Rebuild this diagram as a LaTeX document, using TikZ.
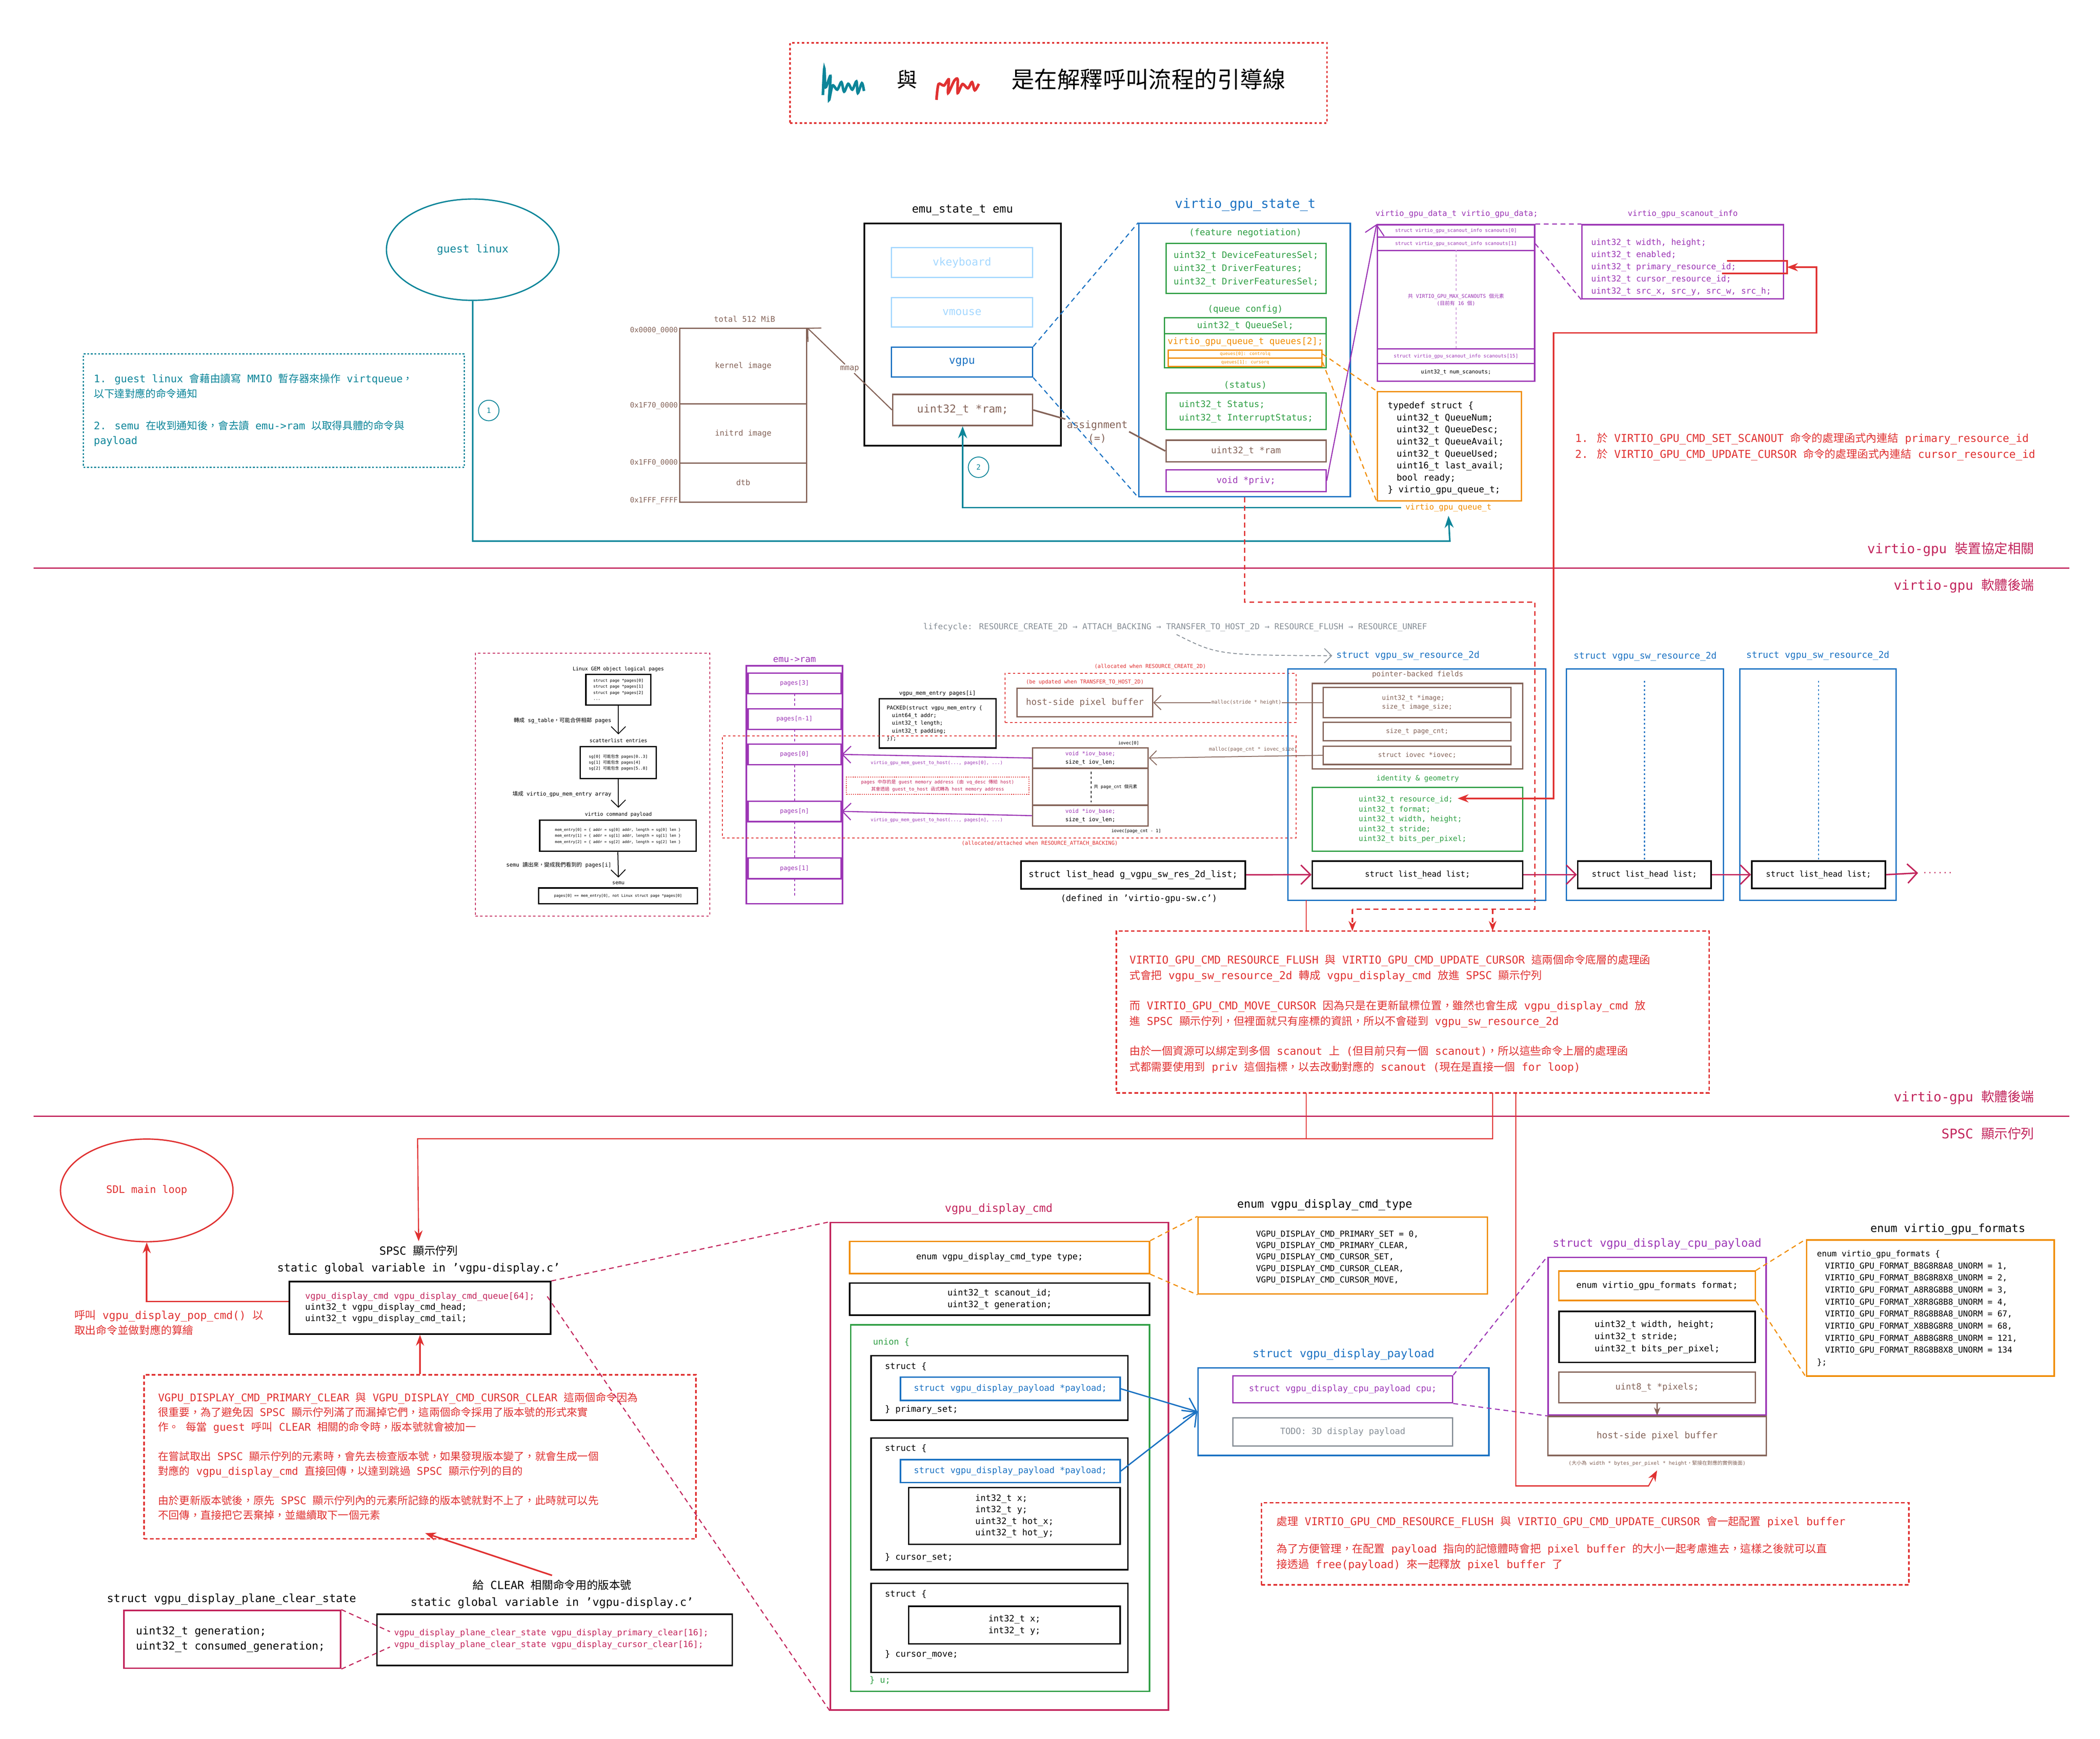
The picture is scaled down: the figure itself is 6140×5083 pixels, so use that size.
\documentclass[tikz,border=0pt]{standalone}
\usepackage{fontspec}
\setmainfont{DejaVu Sans Mono}
\newfontfamily\cjk{Noto Sans CJK TC}
\usetikzlibrary{arrows.meta,positioning,shapes.geometric}
% automatic switch to the CJK font for Han characters and CJK punctuation
\XeTeXinterchartokenstate=1
\newXeTeXintercharclass\cjkclass
\count255="4E00
\loop\XeTeXcharclass\count255=\cjkclass\advance\count255 1 \ifnum\count255<"A000 \repeat
\count255="3000
\loop\XeTeXcharclass\count255=\cjkclass\advance\count255 1 \ifnum\count255<"3040 \repeat
\count255="FF00
\loop\XeTeXcharclass\count255=\cjkclass\advance\count255 1 \ifnum\count255<"FF60 \repeat
\XeTeXinterchartoks 0 \cjkclass={\cjk}
\XeTeXinterchartoks 4095 \cjkclass={\cjk}
\XeTeXinterchartoks \cjkclass 0={\rmfamily}
\XeTeXinterchartoks \cjkclass 4095={\rmfamily}
\definecolor{tealc}{HTML}{0C8599}
\definecolor{bluec}{HTML}{1971C2}
\definecolor{greenc}{HTML}{2F9E44}
\definecolor{orangec}{HTML}{F08C00}
\definecolor{purplec}{HTML}{9C36B5}
\definecolor{brownc}{HTML}{846358}
\definecolor{redc}{HTML}{E03131}
\definecolor{crimc}{HTML}{C2255C}
\definecolor{lblue}{HTML}{A5D8FF}
\definecolor{greyc}{HTML}{868E96}
\newcommand\fs[2]{\fontsize{#1}{#2}\selectfont}
% box from corner to corner, in pixel units
\def\regbox#1#2(#3,#4)(#5,#6)#7{%
  \pgfmathsetmacro\bxc{(#3+#5)/2}\pgfmathsetmacro\byc{(#4+#6)/2}%
  \pgfmathsetmacro\bw{(#5-#3)*0.01}\pgfmathsetmacro\bh{(#6-#4)*0.01}%
  \node[draw,#1,minimum width=\bw cm,minimum height=\bh cm,inner sep=0pt] (#2) at (\bxc,\byc) {#7};}
\begin{document}
\begin{tikzpicture}[x=0.01cm,y=-0.01cm]
  \tikzstyle{every node}=[align=center, text=black]
  \tikzstyle{fld}=[line width=1.1pt]
  \tikzstyle{thin}=[line width=0.7pt]
  \tikzstyle{lnk}=[line width=0.9pt]
  \tikzstyle{dsh}=[line width=0.9pt, dash pattern=on 4pt off 3pt]
  \useasboundingbox (0,0) rectangle (6140,5083);

  % legend
  \regbox{draw=redc, line width=1.2pt, dash pattern=on 2pt off 2pt}{legend}(2310,125)(3880,360){}
  \draw[tealc, line width=2.2pt] plot[smooth] coordinates {(2406,278)(2410,200)(2414,255)(2428,222)(2424,292)(2434,250)(2448,262)(2460,240)(2468,268)(2480,245)(2492,262)(2504,238)(2508,272)(2520,243)(2526,266)};
  \node[font=\fs{17}{20}] (yu) at (2652,232) {與};
  \draw[redc, line width=2.2pt] plot[smooth] coordinates {(2738,292)(2744,246)(2760,250)(2774,232)(2772,272)(2790,236)(2800,232)(2800,272)(2814,246)(2830,258)(2842,240)(2850,264)(2862,245)};
  \node[font=\fs{19}{22}, anchor=west] (legtxt) at (2945,232) {是在解釋呼叫流程的引導線};

  % guest side
  \node[draw=tealc, line width=1.1pt, ellipse, minimum width=5.04cm, minimum height=2.96cm, text=tealc, font=\fs{9}{11}] (guest) at (1382,730) {guest linux};
  \regbox{draw=tealc, line width=1pt, dash pattern=on 1.5pt off 1.5pt}{note}(244,1035)(1358,1366){}
  \node[anchor=north west, align=left, text=tealc, font=\fs{8.6}{12.5}] (notetxt) at (262,1080) {1. guest linux 會藉由讀寫 MMIO 暫存器來操作 virtqueue，\\以下達對應的命令通知\\[14pt]2. semu 在收到通知後，會去讀 emu->ram 以取得具體的命令與\\payload};
  \node[draw=tealc, circle, thin, minimum size=0.6cm, inner sep=0pt, text=tealc, font=\fs{6}{7}] (one) at (1429,1200) {1};
  \node[draw=tealc, circle, thin, minimum size=0.6cm, inner sep=0pt, text=tealc, font=\fs{6}{7}] (two) at (2861,1366) {2};

  % memory map
  \node[text=brownc, font=\fs{6.5}{8}] (total) at (2177,933) {total 512 MiB};
  \regbox{draw=brownc, fld, text=brownc, font=\fs{6.5}{8}}{kernel}(1988,960)(2358,1181){kernel image}
  \regbox{draw=brownc, fld, text=brownc, font=\fs{6.5}{8}}{initrd}(1988,1181)(2358,1354){initrd image}
  \regbox{draw=brownc, fld, text=brownc, font=\fs{6.5}{8}}{dtb}(1988,1354)(2358,1468){dtb}
  \foreach \ad/\yy in {0x0000\_0000/966, 0x1F70\_0000/1186, 0x1FF0\_0000/1354, 0x1FFF\_FFFF/1464}
    \node[anchor=east, text=brownc, font=\fs{6}{7}, inner sep=1pt] at (1986,\yy) {\ad};

  % emu_state_t
  \node[font=\fs{9.3}{11}] (emulbl) at (2814,614) {emu\_state\_t emu};
  \regbox{draw=black, line width=1.3pt}{emu}(2527,653)(3102,1303){}
  \regbox{draw=lblue, fld, text=lblue, font=\fs{9}{11}}{vkbd}(2606,724)(3019,811){vkeyboard}
  \regbox{draw=lblue, fld, text=lblue, font=\fs{9}{11}}{vmouse}(2606,870)(3019,956){vmouse}
  \regbox{draw=bluec, fld, text=bluec, font=\fs{9}{11}}{vgpu}(2606,1015)(3019,1102){vgpu}
  \regbox{draw=brownc, fld, text=brownc, font=\fs{9}{11}}{ram}(2610,1153)(3019,1244){uint32\_t *ram;}
  \node[text=brownc, font=\fs{6.5}{8}, fill=white, inner sep=1pt] (mmap) at (2484,1078) {mmap};
  \draw[brownc, lnk] (ram.west) -- (mmap);
  \draw[brownc, lnk, -{Straight Barb[length=8pt]}] (mmap) -- (kernel.north east);

  % virtio_gpu_state_t
  \node[text=bluec, font=\fs{10.8}{13}] (statelbl) at (3641,598) {virtio\_gpu\_state\_t};
  \regbox{draw=bluec, line width=1.2pt}{state}(3330,653)(3948,1452){}
  \node[text=greenc, font=\fs{7.4}{9}] (featlbl) at (3641,681) {(feature negotiation)};
  \regbox{draw=greenc, fld, text=greenc, font=\fs{7.4}{11}}{feat}(3409,712)(3877,858){\begin{tabular}{@{}l@{}}uint32\_t DeviceFeaturesSel;\\uint32\_t DriverFeatures;\\uint32\_t DriverFeaturesSel;\end{tabular}}
  \node[text=greenc, font=\fs{7.4}{9}] (qcfglbl) at (3641,905) {(queue config)};
  \regbox{draw=greenc, fld, text=greenc, font=\fs{7.4}{9}}{qsel}(3405,929)(3877,976){uint32\_t QueueSel;}
  \regbox{draw=greenc, fld}{qarr}(3405,976)(3877,1075){}
  \node[text=orangec, font=\fs{7.4}{9}] (qarrtxt) at (3641,1000) {virtio\_gpu\_queue\_t queues[2];};
  \regbox{draw=orangec, fld, text=orangec, font=\fs{3.6}{4}}{q0}(3416,1023)(3865,1047){queues[0]: controlq}
  \regbox{draw=orangec, fld, text=orangec, font=\fs{3.6}{4}}{q1}(3416,1047)(3865,1071){queues[1]: cursorq}
  \node[text=greenc, font=\fs{7.4}{9}] (statlbl) at (3641,1126) {(status)};
  \regbox{draw=greenc, fld, text=greenc, font=\fs{7.4}{11}}{stat}(3409,1149)(3877,1256){\begin{tabular}{@{}l@{}}uint32\_t Status;\\uint32\_t InterruptStatus;\end{tabular}}
  \regbox{draw=brownc, fld, text=brownc, font=\fs{7.4}{9}}{sram}(3409,1287)(3877,1350){uint32\_t *ram}
  \regbox{draw=purplec, fld, text=purplec, font=\fs{7.4}{9}}{priv}(3409,1374)(3877,1437){void *priv;}
  \node[text=brownc, font=\fs{8.4}{11}, fill=white, inner sep=1pt] (asg) at (3208,1262) {assignment\\(=)};
  \draw[bluec, dsh] (vgpu.north east) -- (state.north west);
  \draw[bluec, dsh] (vgpu.south east) -- (state.south west);
  \draw[brownc, line width=1.3pt] (ram.east) -- (asg.north west);
  \draw[brownc, line width=1.3pt] (asg.east) -- (sram.west);

  % virtio_gpu_data
  \node[text=purplec, font=\fs{6.6}{8}] (datalbl) at (4259,626) {virtio\_gpu\_data\_t virtio\_gpu\_data;};
  \regbox{draw=purplec, fld, text=purplec, font=\fs{4}{5}}{sc0}(4027,657)(4487,693){struct virtio\_gpu\_scanout\_info scanouts[0]}
  \regbox{draw=purplec, fld, text=purplec, font=\fs{4}{5}}{sc1}(4027,693)(4487,732){struct virtio\_gpu\_scanout\_info scanouts[1]}
  \regbox{draw=purplec, fld}{scmid}(4027,732)(4487,1020){}
  \draw[purplec!50, thin, dash pattern=on 2pt off 2pt] (scmid.north) -- (scmid.south);
  \node[text=purplec, fill=white, inner sep=1pt, font=\fs{4.2}{6}] (scmidtxt) at (scmid) {共 VIRTIO\_GPU\_MAX\_SCANOUTS 個元素\\(目前有 16 個)};
  \regbox{draw=purplec, fld, text=purplec, font=\fs{4}{5}}{sc15}(4027,1020)(4487,1063){struct virtio\_gpu\_scanout\_info scanouts[15]}
  \regbox{draw=purplec, fld, font=\fs{4.4}{5}}{nsc}(4027,1063)(4487,1114){uint32\_t num\_scanouts;}
  \draw[purplec, lnk, -{Straight Barb[length=8pt]}] (priv.east) -- (sc0.north west);

  % virtio_gpu_scanout_info
  \node[text=purplec, font=\fs{6.6}{8}] (scilbl) at (4920,626) {virtio\_gpu\_scanout\_info};
  \regbox{draw=purplec, fld}{sci}(4625,657)(5215,874){}
  \node[anchor=west, align=left, text=purplec, font=\fs{6.9}{10.1}] (scitxt) at (4640,781) {uint32\_t width, height;\\uint32\_t enabled;\\uint32\_t primary\_resource\_id;\\uint32\_t cursor\_resource\_id;\\uint32\_t src\_x, src\_y, src\_w, src\_h;};
  \draw[purplec, dsh] (sc0.north east) -- (sci.north west);
  \draw[purplec, dsh] (sc1.east) -- (sci.south west);
  \coordinate (prim) at (5050,763);
  \coordinate (curs) at (5035,799);
  \draw[redc, line width=1.3pt] (prim) -- (5225,763) -- (5225,799) -- (curs);
  \node[anchor=west, align=left, text=redc, font=\fs{9}{13.5}] (bind) at (4593,1306) {1. 於 VIRTIO\_GPU\_CMD\_SET\_SCANOUT 命令的處理函式內連結 primary\_resource\_id\\2. 於 VIRTIO\_GPU\_CMD\_UPDATE\_CURSOR 命令的處理函式內連結 cursor\_resource\_id};

  % virtio_gpu_queue_t
  \regbox{draw=orangec, fld}{qtype}(4027,1145)(4448,1464){}
  \node[anchor=north west, align=left, font=\fs{7.4}{10}] (qtypetxt) at (4045,1162) {typedef struct \{\\\quad uint32\_t QueueNum;\\\quad uint32\_t QueueDesc;\\\quad uint32\_t QueueAvail;\\\quad uint32\_t QueueUsed;\\\quad uint16\_t last\_avail;\\\quad bool ready;\\\} virtio\_gpu\_queue\_t;};
  \node[text=orangec, font=\fs{6.6}{8}] (qlbl) at (4235,1484) {virtio\_gpu\_queue\_t};
  \draw[orangec, dsh] (q0.east) -- (qtype.north west);
  \draw[orangec, dsh] (q1.east) -- (qtype.south west);

  % guide lines (teal)
  \draw[tealc, line width=1.3pt, -{Stealth[length=10pt]}] (guest.south) |- (4239,1582) -- (qlbl.south);
  \draw[tealc, line width=1.3pt, -{Stealth[length=10pt]}] (qlbl.west) -| (ram.south);

  % section separators
  \draw[crimc, line width=1pt] (98,1661) -- (6050,1661);
  \node[anchor=east, text=crimc, font=\fs{11}{13}] (sec1) at (5960,1606) {virtio-gpu 裝置協定相關};
  \node[anchor=east, text=crimc, font=\fs{11}{13}] (sec2) at (5960,1712) {virtio-gpu 軟體後端};
  \draw[crimc, line width=1pt] (98,3263) -- (6050,3263);
  \node[anchor=east, text=crimc, font=\fs{11}{13}] (sec3) at (5960,3208) {virtio-gpu 軟體後端};
  \node[anchor=east, text=crimc, font=\fs{11}{13}] (sec4) at (5960,3314) {SPSC 顯示佇列};

  % red dashed guide from state to the flush note
  \draw[redc, dsh, line width=1.2pt] (state.south) |- (4488,1760) |- (3954,2658);
  \draw[redc, dsh, line width=1.2pt, -{Stealth}] (3954,2658) -- (3954,2722);
  \draw[redc, dsh, line width=1.2pt, -{Stealth}] (4364,2658) -- (4364,2722);

  % lifecycle
  \node[text=greyc, font=\fs{6.8}{8}] (life) at (3436,1834) {lifecycle: RESOURCE\_CREATE\_2D → ATTACH\_BACKING → TRANSFER\_TO\_HOST\_2D → RESOURCE\_FLUSH → RESOURCE\_UNREF};

  % left dashed box: from Linux pages to semu pages
  \regbox{draw=crimc, thin, dash pattern=on 2pt off 2pt}{gem}(1390,1909)(2075,2678){}
  \node[font=\fs{4.2}{5}] (gemlbl) at (1808,1956) {Linux GEM object logical pages};
  \regbox{fld, font=\fs{3.3}{5}}{gembox}(1713,1972)(1903,2061){\begin{tabular}{@{}l@{}}struct page *pages[0]\\struct page *pages[1]\\struct page *pages[2]\\...\end{tabular}}
  \node[font=\fs{4.2}{5}] (sglbl) at (1808,2165) {scatterlist entries};
  \regbox{fld, font=\fs{3.3}{5}}{sgbox}(1696,2183)(1919,2276){\begin{tabular}{@{}l@{}}sg[0] 可能包含 pages[0..3]\\sg[1] 可能包含 pages[4]\\sg[2] 可能包含 pages[5..8]\end{tabular}}
  \node[font=\fs{4.2}{5}] (vcplbl) at (1808,2381) {virtio command payload};
  \regbox{fld, font=\fs{3.1}{5}}{vcpbox}(1578,2398)(2035,2489){\begin{tabular}{@{}l@{}}mem\_entry[0] = \{ addr = sg[0] addr, length = sg[0] len \}\\mem\_entry[1] = \{ addr = sg[1] addr, length = sg[1] len \}\\mem\_entry[2] = \{ addr = sg[2] addr, length = sg[2] len \}\end{tabular}}
  \node[font=\fs{4.2}{5}] (semulbl) at (1808,2582) {semu};
  \regbox{fld, font=\fs{3.1}{5}}{semubox}(1575,2596)(2039,2642){pages[0] == mem\_entry[0], not Linux struct page *pages[0]}
  \draw[thin, -{Straight Barb[length=6pt]}] (gembox.south) -- (sglbl.north);
  \draw[thin, -{Straight Barb[length=6pt]}] (sgbox.south) -- (vcplbl.north);
  \draw[thin, -{Straight Barb[length=6pt]}] (vcpbox.south) -- (semulbl.north);
  \node[anchor=east, font=\fs{4.5}{5}] at (1800,2107) {轉成 sg\_table，可能合併相鄰 pages};
  \node[anchor=east, font=\fs{4.5}{5}] at (1800,2322) {填成 virtio\_gpu\_mem\_entry array};
  \node[anchor=east, font=\fs{4.5}{5}] at (1800,2529) {semu 讀出來，變成我們看到的 pages[i]};

  % emu->ram pages
  \node[text=purplec, font=\fs{7.4}{9}] (ramlbl) at (2323,1929) {emu->ram};
  \regbox{draw=purplec, line width=1.3pt}{pgcol}(2182,1946)(2463,2642){}
  \foreach \nm/\lb/\ya/\yb in {pg3/pages[3]/1968/2028, pgm/pages[n-1]/2072/2132, pg0/pages[0]/2175/2236, pgn/pages[n]/2342/2402, pg1/pages[1]/2508/2569}
    \regbox{draw=purplec, fld, text=purplec, font=\fs{5}{6}}{\nm}(2187,\ya)(2459,\yb){\lb}
  \foreach \ya/\yb in {2028/2072, 2132/2175, 2236/2342, 2402/2508, 2569/2625}
    \draw[purplec, thin, dash pattern=on 2pt off 2pt] (2323,\ya) -- (2323,\yb);

  \node[font=\fs{4.6}{6}] (melbl) at (2741,2028) {vgpu\_mem\_entry pages[i]};
  \regbox{fld}{mebox}(2571,2043)(2912,2187){}
  \node[anchor=north west, align=left, font=\fs{4.4}{6.4}] (metxt) at (2580,2050) {PACKED(struct vgpu\_mem\_entry \{\\\quad uint64\_t addr;\\\quad uint32\_t length;\\\quad uint32\_t padding;\\\});};

  % host-side buffer and iovec
  \regbox{draw=redc, thin, dash pattern=on 2pt off 2pt}{creat}(2939,1968)(3789,2112){}
  \node[text=redc, font=\fs{4.4}{5}] (creatlbl) at (3363,1949) {(allocated when RESOURCE\_CREATE\_2D)};
  \node[text=redc, font=\fs{4.4}{5}] (trlbl) at (3172,1995) {(be updated when TRANSFER\_TO\_HOST\_2D)};
  \regbox{draw=brownc, fld, text=brownc, font=\fs{7.4}{9}}{hbuf}(2974,2012)(3370,2096){host-side pixel buffer}
  \regbox{draw=redc, thin, dash pattern=on 2pt off 2pt}{attach}(2112,2151)(3789,2450){}
  \node[text=redc, font=\fs{4.4}{5}, fill=white, inner sep=1pt] (attlbl) at (3040,2466) {(allocated/attached when RESOURCE\_ATTACH\_BACKING)};
  \regbox{draw=brownc, fld, text=purplec, font=\fs{4.6}{7}}{iov0}(3019,2186)(3357,2246){\begin{tabular}{@{}l@{}}void *iov\_base;\\\textcolor{black}{size\_t iov\_len;}\end{tabular}}
  \regbox{draw=brownc, fld}{iovm}(3019,2246)(3357,2354){}
  \regbox{draw=brownc, fld, text=purplec, font=\fs{4.6}{7}}{iovn}(3019,2354)(3357,2415){\begin{tabular}{@{}l@{}}void *iov\_base;\\\textcolor{black}{size\_t iov\_len;}\end{tabular}}
  \draw[black, thin, dash pattern=on 2pt off 2pt] (3190,2256) -- (3190,2345);
  \node[anchor=west, font=\fs{3.6}{4}, inner sep=1pt] at (3194,2300) {共 page\_cnt 個元素};
  \node[font=\fs{3.6}{4}] at (3300,2172) {iovec[0]};
  \node[font=\fs{3.6}{4}] at (3322,2430) {iovec[page\_cnt - 1]};
  \draw[purplec, lnk, -{Straight Barb[length=7pt]}] (iov0.west) -- (pg0.east) node[midway, below, font=\fs{3.8}{4}, text=purplec] {virtio\_gpu\_mem\_guest\_to\_host(..., pages[0], ...)};
  \draw[purplec, lnk, -{Straight Barb[length=7pt]}] (iovn.west) -- (pgn.east) node[midway, below, font=\fs{3.8}{4}, text=purplec] {virtio\_gpu\_mem\_guest\_to\_host(..., pages[n], ...)};
  \regbox{draw=redc, thin, dash pattern=on 0.8pt off 1pt}{pnote}(2475,2272)(3008,2322){}
  \node[text=crimc, font=\fs{3.8}{6}] (pnotetxt) at (pnote) {pages 中存的是 guest memory address (由 vq\_desc 傳給 host)\\其會透過 guest\_to\_host 函式轉為 host memory address};

  \regbox{line width=1.3pt, font=\fs{7.4}{9}}{glist}(2985,2517)(3641,2598){struct list\_head g\_vgpu\_sw\_res\_2d\_list;}
  \node[font=\fs{7.2}{9}] (gdef) at (3330,2628) {(defined in 'virtio-gpu-sw.c')};

  % vgpu_sw_resource_2d list
  \node[anchor=west, text=bluec, font=\fs{7.6}{9}] (res1lbl) at (3895,1917) {struct vgpu\_sw\_resource\_2d};
  \draw[greyc, thin, dash pattern=on 3pt off 2pt, -{Straight Barb[length=6pt]}] (3440,1855) .. controls (3560,1915) .. (res1lbl.west);
  \regbox{draw=bluec, fld}{res1}(3766,1956)(4520,2632){}
  \node[text=brownc, font=\fs{6}{7}] (pbl) at (4145,1972) {pointer-backed fields};
  \regbox{draw=brownc, fld}{pbox}(3837,1998)(4452,2248){}
  \regbox{draw=brownc, fld, text=brownc, font=\fs{5.4}{7.6}}{imgf}(3869,2010)(4418,2098){\begin{tabular}{@{}l@{}}uint32\_t *image;\\size\_t image\_size;\end{tabular}}
  \regbox{draw=brownc, fld, text=brownc, font=\fs{5.4}{6}}{pcf}(3869,2112)(4418,2166){size\_t page\_cnt;}
  \regbox{draw=brownc, fld, text=brownc, font=\fs{5.4}{6}}{iovf}(3869,2181)(4418,2235){struct iovec *iovec;}
  \node[text=greenc, font=\fs{6}{7}] (idl) at (4145,2277) {identity \& geometry};
  \regbox{draw=greenc, fld}{idbox}(3837,2302)(4452,2488){}
  \node[anchor=north west, align=left, text=greenc, font=\fs{6.2}{8.2}] (idtxt) at (3960,2315) {uint32\_t resource\_id;\\uint32\_t format;\\uint32\_t width, height;\\uint32\_t stride;\\uint32\_t bits\_per\_pixel;};
  \coordinate (rid) at (4262,2334);
  \regbox{line width=1.3pt, font=\fs{6.6}{8}}{list1}(3837,2517)(4452,2597){struct list\_head list;}
  \draw[brownc, thin, -{Straight Barb[length=6pt]}] (imgf.west) -- (hbuf.east) node[pos=0.45, fill=white, inner sep=0.5pt, font=\fs{4.2}{5}, text=brownc] {malloc(stride * height)};
  \draw[brownc, thin, -{Straight Barb[length=6pt]}] (iovf.west) -- (iov0.east) node[pos=0.4, above, font=\fs{4.2}{5}, text=brownc] {malloc(page\_cnt * iovec\_size)};

  \node[text=bluec, font=\fs{7.6}{9}] (res2lbl) at (4810,1919) {struct vgpu\_sw\_resource\_2d};
  \regbox{draw=bluec, fld}{res2}(4580,1956)(5039,2632){}
  \regbox{line width=1.3pt, font=\fs{6.6}{8}}{list2}(4613,2517)(5003,2597){struct list\_head list;}
  \node[text=bluec, font=\fs{7.6}{9}] (res3lbl) at (5315,1917) {struct vgpu\_sw\_resource\_2d};
  \regbox{draw=bluec, fld}{res3}(5087,1956)(5544,2632){}
  \regbox{line width=1.3pt, font=\fs{6.6}{8}}{list3}(5122,2517)(5512,2597){struct list\_head list;}
  \draw[bluec, lnk, dash pattern=on 1.5pt off 2pt] (4808,1990) -- (list2.north);
  \draw[bluec, lnk, dash pattern=on 1.5pt off 2pt] (5317,1990) -- (list3.north);
  \node[text=crimc, font=\fs{7}{8}] (more) at (5665,2552) {......};
  \draw[crimc, line width=1.2pt, -{Straight Barb[length=8pt]}] (glist.east) -- (list1.west);
  \draw[crimc, line width=1.2pt, -{Straight Barb[length=8pt]}] (list1.east) -- (list2.west);
  \draw[crimc, line width=1.2pt, -{Straight Barb[length=8pt]}] (list2.east) -- (list3.west);
  \draw[crimc, line width=1.2pt, -{Straight Barb[length=8pt]}] (list3.east) -- (more.west);

  % red guide to the resource id
  \draw[redc, line width=1.3pt, {Stealth[length=9pt]}-{Stealth[length=9pt]}] (rid) -- (4542,2334) -- (4542,973) -- (5311,973) -- (5311,781) -- (5225,781);

  % flush note
  \regbox{draw=redc, line width=1.2pt, dash pattern=on 3pt off 2pt}{flush}(3264,2722)(4997,3195){}
  \node[anchor=north west, align=left, text=redc, font=\fs{9}{13}] (flushtxt) at (3290,2778) {VIRTIO\_GPU\_CMD\_RESOURCE\_FLUSH 與 VIRTIO\_GPU\_CMD\_UPDATE\_CURSOR 這兩個命令底層的處理函\\式會把 vgpu\_sw\_resource\_2d 轉成 vgpu\_display\_cmd 放進 SPSC 顯示佇列\\[12pt]而 VIRTIO\_GPU\_CMD\_MOVE\_CURSOR 因為只是在更新鼠標位置，雖然也會生成 vgpu\_display\_cmd 放\\進 SPSC 顯示佇列，但裡面就只有座標的資訊，所以不會碰到 vgpu\_sw\_resource\_2d\\[12pt]由於一個資源可以綁定到多個 scanout 上 (但目前只有一個 scanout)，所以這些命令上層的處理函\\式都需要使用到 priv 這個指標，以去改動對應的 scanout (現在是直接一個 for loop)};
  \draw[redc, lnk] (3819,2632) -- (3819,2722);
  \draw[redc, lnk] (3819,3195) -- (3819,3329);

  % SPSC queue
  \node[draw=redc, line width=1.1pt, ellipse, minimum width=5.04cm, minimum height=3cm, text=redc, font=\fs{8.6}{10}] (sdl) at (429,3480) {SDL main loop};
  \node[font=\fs{9.3}{14}] (spsclbl) at (1224,3683) {SPSC 顯示佇列\\static global variable in 'vgpu-display.c'};
  \draw[redc, lnk, -{Stealth[length=9pt]}] (4364,3195) |- (1221,3329) -- (spsclbl.north);
  \regbox{line width=1.3pt}{queue}(846,3747)(1610,3900){}
  \node[anchor=west, align=left, font=\fs{7.2}{9.3}] (queuetxt) at (880,3823) {\textcolor{crimc}{vgpu\_display\_cmd vgpu\_display\_cmd\_queue[64];}\\uint32\_t vgpu\_display\_cmd\_head;\\uint32\_t vgpu\_display\_cmd\_tail;};
  \draw[redc, line width=1.3pt, -{Stealth[length=9pt]}] (queue.west |- 0,3805) -| (sdl.south);
  \node[anchor=north west, align=left, text=redc, font=\fs{9}{12.5}] (poptxt) at (205,3818) {呼叫 vgpu\_display\_pop\_cmd() 以\\取出命令並做對應的算繪};

  \regbox{draw=redc, line width=1.2pt, dash pattern=on 3pt off 2pt}{clearnote}(421,4019)(2035,4499){}
  \node[anchor=north west, align=left, text=redc, font=\fs{8.8}{12.3}] (clearnotetxt) at (450,4058) {VGPU\_DISPLAY\_CMD\_PRIMARY\_CLEAR 與 VGPU\_DISPLAY\_CMD\_CURSOR\_CLEAR 這兩個命令因為\\很重要，為了避免因 SPSC 顯示佇列滿了而漏掉它們，這兩個命令採用了版本號的形式來實\\作。 每當 guest 呼叫 CLEAR 相關的命令時，版本號就會被加一\\[12pt]在嘗試取出 SPSC 顯示佇列的元素時，會先去檢查版本號，如果發現版本變了，就會生成一個\\對應的 vgpu\_display\_cmd 直接回傳，以達到跳過 SPSC 顯示佇列的目的\\[12pt]由於更新版本號後，原先 SPSC 顯示佇列內的元素所記錄的版本號就對不上了，此時就可以先\\不回傳，直接把它丟棄掉，並繼續取下一個元素};
  \draw[redc, line width=1.3pt, -{Stealth[length=9pt]}] (clearnote.north -| queue.south) -- (queue.south);

  \node[font=\fs{9.3}{14}] (verlbl) at (1614,4660) {給 CLEAR 相關命令用的版本號\\static global variable in 'vgpu-display.c'};
  \draw[redc, line width=1.3pt, -{Stealth[length=9pt]}] (verlbl.north) -- (1243,4482);
  \regbox{line width=1.3pt}{clear}(1102,4719)(2141,4869){}
  \node[anchor=west, align=left, text=crimc, font=\fs{7}{10}] (cleartxt) at (1140,4792) {vgpu\_display\_plane\_clear\_state vgpu\_display\_primary\_clear[16];\\vgpu\_display\_plane\_clear\_state vgpu\_display\_cursor\_clear[16];};
  \node[font=\fs{9.3}{11}] (pcslbl) at (677,4676) {struct vgpu\_display\_plane\_clear\_state};
  \regbox{draw=crimc, line width=1.3pt}{pcs}(362,4708)(996,4877){}
  \node[anchor=west, align=left, font=\fs{9}{12.5}] (pcstxt) at (385,4792) {uint32\_t generation;\\uint32\_t consumed\_generation;};
  \draw[crimc, dsh] (pcs.north east) -- (cleartxt.west |- 0,4770);
  \draw[crimc, dsh] (pcs.south east) -- (cleartxt.west |- 0,4815);

  % vgpu_display_cmd
  \node[text=crimc, font=\fs{9.3}{11}] (cmdlbl) at (2920,3535) {vgpu\_display\_cmd};
  \regbox{draw=crimc, line width=1.2pt}{cmd}(2428,3574)(3416,4999){}
  \draw[crimc, dsh] (queue.north east) -- (cmd.north west);
  \draw[crimc, dsh] (1600,3790) -- (cmd.south west);
  \regbox{draw=orangec, line width=1.2pt, font=\fs{7.2}{9}}{ctype}(2484,3629)(3361,3723){enum vgpu\_display\_cmd\_type type;}
  \regbox{line width=1.2pt, font=\fs{7.2}{10}}{scid}(2484,3751)(3361,3845){\begin{tabular}{@{}l@{}}uint32\_t scanout\_id;\\uint32\_t generation;\end{tabular}}
  \regbox{draw=greenc, line width=1.1pt}{union}(2487,3873)(3361,4944){}
  \node[anchor=west, text=greenc, font=\fs{7.2}{9}] (uniontop) at (2540,3924) {union \{};
  \node[anchor=west, text=greenc, font=\fs{7.2}{9}] (unionend) at (2530,4912) {\} u;};
  \regbox{line width=1.2pt}{ps}(2547,3963)(3298,4152){}
  \node[anchor=west, font=\fs{7.2}{9}] at (2575,3995) {struct \{};
  \regbox{draw=bluec, line width=1.2pt, text=bluec, font=\fs{7.2}{9}}{pspl}(2633,4026)(3275,4094){struct vgpu\_display\_payload *payload;}
  \node[anchor=west, font=\fs{7.2}{9}] at (2575,4121) {\} primary\_set;};
  \regbox{line width=1.2pt}{cs}(2547,4204)(3298,4589){}
  \node[anchor=west, font=\fs{7.2}{9}] at (2575,4235) {struct \{};
  \regbox{draw=bluec, line width=1.2pt, text=bluec, font=\fs{7.2}{9}}{cspl}(2633,4267)(3275,4334){struct vgpu\_display\_payload *payload;}
  \regbox{line width=1.2pt, font=\fs{7.2}{9.6}}{csxy}(2657,4349)(3275,4515){\begin{tabular}{@{}l@{}}int32\_t x;\\int32\_t y;\\uint32\_t hot\_x;\\uint32\_t hot\_y;\end{tabular}}
  \node[anchor=west, font=\fs{7.2}{9}] at (2575,4554) {\} cursor\_set;};
  \regbox{line width=1.2pt}{cm}(2547,4629)(3298,4889){}
  \node[anchor=west, font=\fs{7.2}{9}] at (2575,4660) {struct \{};
  \regbox{line width=1.2pt, font=\fs{7.2}{9.6}}{cmxy}(2657,4696)(3275,4806){\begin{tabular}{@{}l@{}}int32\_t x;\\int32\_t y;\end{tabular}}
  \node[anchor=west, font=\fs{7.2}{9}] at (2575,4837) {\} cursor\_move;};

  % enum vgpu_display_cmd_type
  \node[font=\fs{9.3}{11}] (ctlbl) at (3873,3523) {enum vgpu\_display\_cmd\_type};
  \regbox{draw=orangec, line width=1.2pt}{ctenum}(3503,3558)(4349,3783){}
  \node[anchor=north west, align=left, font=\fs{6.8}{9.6}] (cttxt) at (3660,3585) {VGPU\_DISPLAY\_CMD\_PRIMARY\_SET = 0,\\VGPU\_DISPLAY\_CMD\_PRIMARY\_CLEAR,\\VGPU\_DISPLAY\_CMD\_CURSOR\_SET,\\VGPU\_DISPLAY\_CMD\_CURSOR\_CLEAR,\\VGPU\_DISPLAY\_CMD\_CURSOR\_MOVE,};
  \draw[orangec, dsh] (ctype.north east) -- (ctenum.north west);
  \draw[orangec, dsh] (ctype.south east) -- (ctenum.south west);

  % struct vgpu_display_payload
  \node[text=bluec, font=\fs{9.3}{11}] (pllbl) at (3928,3960) {struct vgpu\_display\_payload};
  \regbox{draw=bluec, line width=1.2pt}{pl}(3503,3999)(4353,4255){}
  \regbox{draw=purplec, line width=1.2pt, text=purplec, font=\fs{7.2}{9}}{cpu}(3605,4022)(4247,4101){struct vgpu\_display\_cpu\_payload cpu;}
  \regbox{draw=greyc, line width=1.2pt, text=greyc, font=\fs{7.2}{9}}{todo}(3605,4145)(4247,4227){TODO: 3D display payload};
  \draw[bluec, line width=1.1pt, -{Straight Barb[length=9pt]}] (pspl.east) -- (pl.west);
  \draw[bluec, line width=1.1pt, -{Straight Barb[length=9pt]}] (cspl.east) -- (pl.west);

  % struct vgpu_display_cpu_payload
  \node[text=purplec, font=\fs{9.3}{11}] (cpulbl) at (4845,3637) {struct vgpu\_display\_cpu\_payload};
  \regbox{draw=purplec, line width=1.3pt}{cpup}(4526,3676)(5164,4137){}
  \regbox{draw=orangec, line width=1.2pt, font=\fs{7.2}{9}}{fmt}(4558,3716)(5132,3802){enum virtio\_gpu\_formats format;}
  \regbox{line width=1.3pt, font=\fs{7.2}{10}}{dims}(4558,3834)(5132,3983){\begin{tabular}{@{}l@{}}uint32\_t width, height;\\uint32\_t stride;\\uint32\_t bits\_per\_pixel;\end{tabular}}
  \regbox{draw=brownc, line width=1.2pt, text=brownc, font=\fs{7.2}{9}}{pix}(4558,4011)(5132,4101){uint8\_t *pixels;}
  \regbox{draw=brownc, line width=1.2pt, text=brownc, font=\fs{7.6}{9}}{hbuf2}(4526,4141)(5164,4255){host-side pixel buffer}
  \node[text=brownc, font=\fs{4.2}{5}] (hcap) at (4845,4278) {(大小為 width * bytes\_per\_pixel * height，緊接在對應的實例後面)};
  \draw[brownc, lnk, -{Stealth[length=7pt]}] (pix.south) -- (hbuf2.north);
  \draw[purplec, dsh] (cpu.north east) -- (cpup.north west);
  \draw[purplec, dsh] (cpu.south east) -- (cpup.south west);

  % enum virtio_gpu_formats
  \node[font=\fs{9.3}{11}] (fmtlbl) at (5695,3594) {enum virtio\_gpu\_formats};
  \regbox{draw=orangec, line width=1.2pt}{fmtenum}(5282,3625)(6006,4023){}
  \node[anchor=north west, align=left, font=\fs{6.8}{10}] (fmttxt) at (5300,3643) {enum virtio\_gpu\_formats \{\\\quad VIRTIO\_GPU\_FORMAT\_B8G8R8A8\_UNORM = 1,\\\quad VIRTIO\_GPU\_FORMAT\_B8G8R8X8\_UNORM = 2,\\\quad VIRTIO\_GPU\_FORMAT\_A8R8G8B8\_UNORM = 3,\\\quad VIRTIO\_GPU\_FORMAT\_X8R8G8B8\_UNORM = 4,\\\quad VIRTIO\_GPU\_FORMAT\_R8G8B8A8\_UNORM = 67,\\\quad VIRTIO\_GPU\_FORMAT\_X8B8G8R8\_UNORM = 68,\\\quad VIRTIO\_GPU\_FORMAT\_A8B8G8R8\_UNORM = 121,\\\quad VIRTIO\_GPU\_FORMAT\_R8G8B8X8\_UNORM = 134\\\};};
  \draw[orangec, dsh] (fmt.north east) -- (fmtenum.north west);
  \draw[orangec, dsh] (fmt.south east) -- (fmtenum.south west);

  % pixel buffer note
  \regbox{draw=redc, line width=1.2pt, dash pattern=on 3pt off 2pt}{pbnote}(3688,4393)(5581,4633){}
  \node[anchor=north west, align=left, text=redc, font=\fs{9}{12.8}] (pbnotetxt) at (3720,4420) {處理 VIRTIO\_GPU\_CMD\_RESOURCE\_FLUSH 與 VIRTIO\_GPU\_CMD\_UPDATE\_CURSOR 會一起配置 pixel buffer\\[10pt]為了方便管理，在配置 payload 指向的記憶體時會把 pixel buffer 的大小一起考慮進去，這樣之後就可以直\\接透過 free(payload) 來一起釋放 pixel buffer 了};
  \draw[redc, lnk, -{Stealth[length=9pt]}] (4432,3195) |- (4820,4344) -- (hcap.south);
\end{tikzpicture}
\end{document}
